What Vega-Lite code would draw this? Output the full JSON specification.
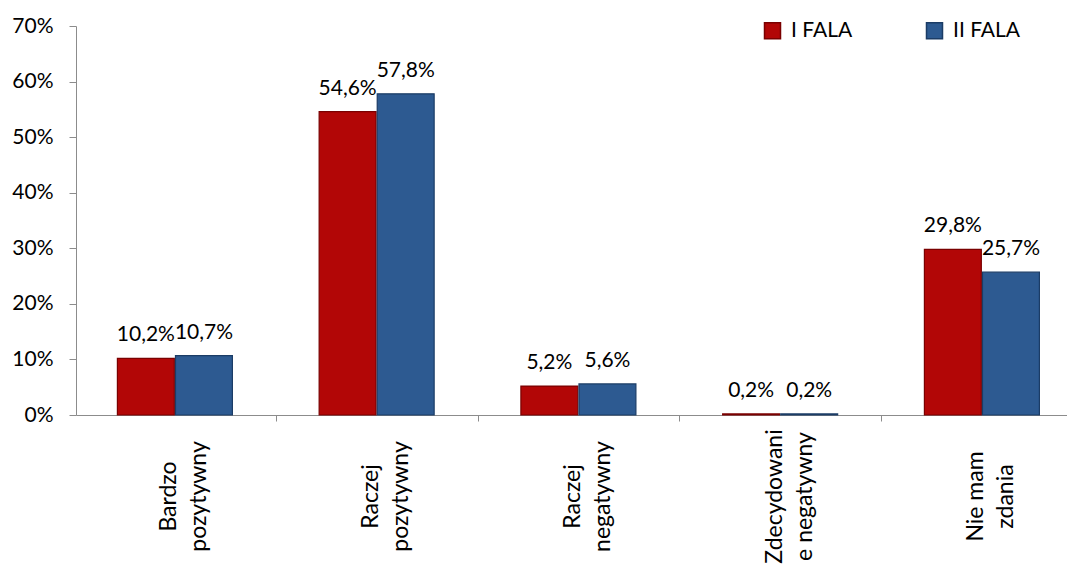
{
  "$schema": "https://vega.github.io/schema/vega-lite/v6.json",
  "width": 991,
  "height": 389,
  "autosize": {"type": "none"},
  "padding": {"left": 76, "top": 26, "right": 0, "bottom": 166},
  "background": "white",
  "config": {
    "font": "Lato",
    "view": {"stroke": null},
    "locale": {"number": {"decimal": ",", "thousands": " ", "grouping": [3], "currency": ["", " zł"]}},
    "axis": {"domainColor": "#8c8c8c", "tickColor": "#8c8c8c", "labelColor": "#000000", "grid": false, "title": null}
  },
  "data": {
    "values": [
      {"odpowiedz": "Bardzo\npozytywny", "fala": "I FALA", "udzial": 0.102},
      {"odpowiedz": "Bardzo\npozytywny", "fala": "II FALA", "udzial": 0.107},
      {"odpowiedz": "Raczej\npozytywny", "fala": "I FALA", "udzial": 0.546},
      {"odpowiedz": "Raczej\npozytywny", "fala": "II FALA", "udzial": 0.578},
      {"odpowiedz": "Raczej\nnegatywny", "fala": "I FALA", "udzial": 0.052},
      {"odpowiedz": "Raczej\nnegatywny", "fala": "II FALA", "udzial": 0.056},
      {"odpowiedz": "Zdecydowani\ne negatywny", "fala": "I FALA", "udzial": 0.002},
      {"odpowiedz": "Zdecydowani\ne negatywny", "fala": "II FALA", "udzial": 0.002},
      {"odpowiedz": "Nie mam\nzdania", "fala": "I FALA", "udzial": 0.298},
      {"odpowiedz": "Nie mam\nzdania", "fala": "II FALA", "udzial": 0.257}
    ]
  },
  "encoding": {
    "x": {
      "field": "odpowiedz",
      "type": "nominal",
      "sort": null,
      "scale": {"paddingInner": 0.43, "paddingOuter": 0.171, "align": 0.6},
      "axis": {
        "labelExpr": "split(datum.label, '\\n')",
        "labelAngle": -90,
        "labelAlign": "center",
        "labelBaseline": "middle",
        "labelFontSize": 23,
        "labelLineHeight": 30,
        "labelLimit": 300,
        "tickOffset": 101,
        "labelOffset": -107,
        "tickSize": 6,
        "labelPadding": 75,
        "encode": {
          "labels": {
            "update": {
              "y": {"signal": "indexof(datum.value, 'Zdecyd') === 0 ? 104 : (indexof(datum.value, 'Nie mam') === 0 ? 74 : 85)"}
            }
          }
        }
      }
    },
    "xOffset": {"field": "fala", "scale": {"paddingInner": 0.02}},
    "y": {
      "field": "udzial",
      "type": "quantitative",
      "scale": {"domain": [0, 0.7]},
      "axis": {
        "format": ".0%",
        "values": [0, 0.1, 0.2, 0.3, 0.4, 0.5, 0.6, 0.7],
        "labelFontSize": 21,
        "labelPadding": 16,
        "tickSize": 7
      }
    }
  },
  "layer": [
    {
      "mark": {"type": "bar", "strokeWidth": 1.2},
      "encoding": {
        "color": {
          "field": "fala",
          "type": "nominal",
          "scale": {"domain": ["I FALA", "II FALA"], "range": ["#b20606", "#2d5a91"]},
          "legend": {
            "title": null,
            "orient": "none",
            "legendX": 686,
            "legendY": -6,
            "direction": "horizontal",
            "symbolType": "square",
            "symbolSize": 256,
            "labelFontSize": 21,
            "labelColor": "#000000",
            "labelOffset": 8,
            "columnPadding": 70
          }
        },
        "stroke": {
          "field": "fala",
          "type": "nominal",
          "scale": {"domain": ["I FALA", "II FALA"], "range": ["#7a0000", "#1b3c66"]},
          "legend": null
        }
      }
    },
    {
      "mark": {"type": "text", "baseline": "alphabetic", "align": "center", "dy": -17, "fontSize": 21, "color": "#000000"},
      "encoding": {
        "text": {"field": "udzial", "type": "quantitative", "format": ".1%"}
      }
    }
  ]
}
